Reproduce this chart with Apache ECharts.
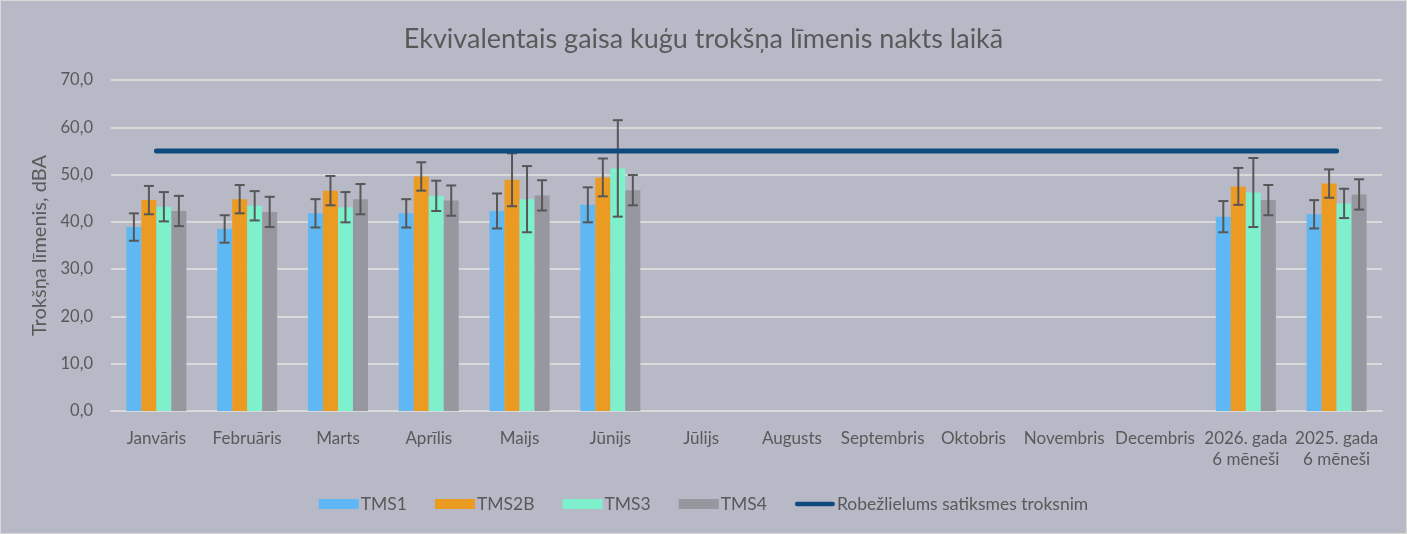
<!DOCTYPE html>
<html>
<head>
<meta charset="utf-8">
<script src="https://cdn.jsdelivr.net/npm/echarts@6/dist/echarts.min.js"></script>
<style>
  html, body { margin: 0; padding: 0; background: #b8b9c7; }
  #chart { width: 1407px; height: 534px; box-sizing: border-box; border: 1px solid #d9d9d9; }
</style>
</head>
<body>
<div id="chart"></div>
<script>
const categories = ['Janvāris', 'Februāris', 'Marts', 'Aprīlis', 'Maijs', 'Jūnijs', 'Jūlijs', 'Augusts',
  'Septembris', 'Oktobris', 'Novembris', 'Decembris', '2026. gada\n6 mēneši', '2025. gada\n6 mēneši']

const tms1 = [38.9, 38.5, 41.8, 41.8, 42.3, 43.6, null, null, null, null, null, null, 41.1, 41.6]
const tms2b = [44.6, 44.8, 46.6, 49.6, 48.9, 49.4, null, null, null, null, null, null, 47.5, 48.1]
const tms3 = [43.2, 43.4, 43.1, 45.5, 44.8, 51.3, null, null, null, null, null, null, 46.2, 43.9]
const tms4 = [42.3, 42.1, 44.8, 44.5, 45.6, 46.7, null, null, null, null, null, null, 44.6, 45.8]

const err1 = [2.9, 2.9, 3.0, 3.0, 3.7, 3.7, null, null, null, null, null, null, 3.3, 3.0]
const err2b = [3.0, 3.0, 3.1, 3.0, 5.6, 4.0, null, null, null, null, null, null, 3.9, 3.0]
const err3 = [3.1, 3.1, 3.2, 3.2, 7.0, 10.2, null, null, null, null, null, null, 7.3, 3.1]
const err4 = [3.2, 3.2, 3.2, 3.2, 3.2, 3.2, null, null, null, null, null, null, 3.2, 3.2]

const limit = categories.map(() => 55)

const seriesNames = ['TMS1', 'TMS2B', 'TMS3', 'TMS4']
const seriesValues = [tms1, tms2b, tms3, tms4]
const seriesErrors = [err1, err2b, err3, err4]
const colors = ['#5fb8f3', '#ec9b22', '#7ef1cc', '#97979f']
const limitName = 'Robežlielums satiksmes troksnim'
const limitColor = '#0e4a7d'

const barWidth = 15
const textColor = '#595959'
const fontFamily = 'Lato, "Open Sans", sans-serif'

const chart = echarts.init(document.getElementById('chart'))

const barSeries = seriesNames.map((name, i) => ({
  name,
  type: 'bar',
  barWidth,
  barGap: '0%',
  itemStyle: { color: colors[i] },
  data: seriesValues[i],
  z: 2
}))

// error bars drawn over each bar, offset to the bar's slot in the group
const errorSeries = seriesNames.map((name, i) => ({
  type: 'custom',
  name: name + '_err',
  z: 3,
  silent: true,
  data: seriesValues[i].map((v, k) => v == null ? null : [k, v - seriesErrors[i][k], v + seriesErrors[i][k]]),
  renderItem: (params, api) => {
    const lo = api.coord([api.value(0), api.value(1)])
    const hi = api.coord([api.value(0), api.value(2)])
    const x = lo[0] + (i - 1.5) * barWidth
    const half = 5
    const style = { stroke: '#575757', lineWidth: 2 }
    return {
      type: 'group',
      children: [
        { type: 'line', shape: { x1: x, y1: hi[1], x2: x, y2: lo[1] }, style },
        { type: 'line', shape: { x1: x - half, y1: hi[1], x2: x + half, y2: hi[1] }, style },
        { type: 'line', shape: { x1: x - half, y1: lo[1], x2: x + half, y2: lo[1] }, style }
      ]
    }
  }
}))

chart.setOption({
  backgroundColor: '#b8b9c7',
  textStyle: { fontFamily },
  title: {
    text: 'Ekvivalentais gaisa kuģu trokšņa līmenis nakts laikā',
    left: 'center',
    top: 20,
    textStyle: { fontSize: 27, fontWeight: 'normal', color: textColor, fontFamily }
  },
  grid: { left: 110, right: 24, top: 79, bottom: 122 },
  legend: {
    bottom: 15,
    left: 'center',
    itemWidth: 40,
    itemHeight: 10,
    itemGap: 28,
    textStyle: { fontSize: 17.5, color: textColor, fontFamily, padding: [0, 0, 0, -3] },
    data: [
      { name: 'TMS1', icon: 'rect' },
      { name: 'TMS2B', icon: 'rect' },
      { name: 'TMS3', icon: 'rect' },
      { name: 'TMS4', icon: 'rect' },
      {
        name: limitName,
        icon: 'path://M2.5,0 L42.5,0 A2.5,2.5 0 0 1 42.5,5 L2.5,5 A2.5,2.5 0 0 1 2.5,0 Z',
        itemStyle: { color: limitColor }
      }
    ]
  },
  xAxis: {
    type: 'category',
    data: categories,
    axisTick: { show: false },
    axisLine: { lineStyle: { color: '#d9d9d9', width: 2 } },
    axisLabel: { interval: 0, fontSize: 17, color: textColor, margin: 17, lineHeight: 21, fontFamily }
  },
  yAxis: {
    type: 'value',
    min: 0,
    max: 70,
    interval: 10,
    name: 'Trokšņa līmenis, dBA',
    nameLocation: 'middle',
    nameGap: 59,
    nameTextStyle: { fontSize: 20, color: textColor, fontFamily },
    axisLabel: {
      fontSize: 16.5, color: textColor, margin: 18, fontFamily,
      formatter: (v) => v.toFixed(1).replace('.', ',')
    },
    splitLine: { lineStyle: { color: '#d9d9d9', width: 2 } }
  },
  series: [
    ...barSeries,
    ...errorSeries,
    {
      name: limitName,
      type: 'line',
      data: limit,
      symbol: 'none',
      z: 5,
      lineStyle: { color: limitColor, width: 5, cap: 'round' },
      itemStyle: { color: limitColor }
    }
  ]
})

window.addEventListener('resize', () => {
  chart.resize()
})
</script>
</body>
</html>
